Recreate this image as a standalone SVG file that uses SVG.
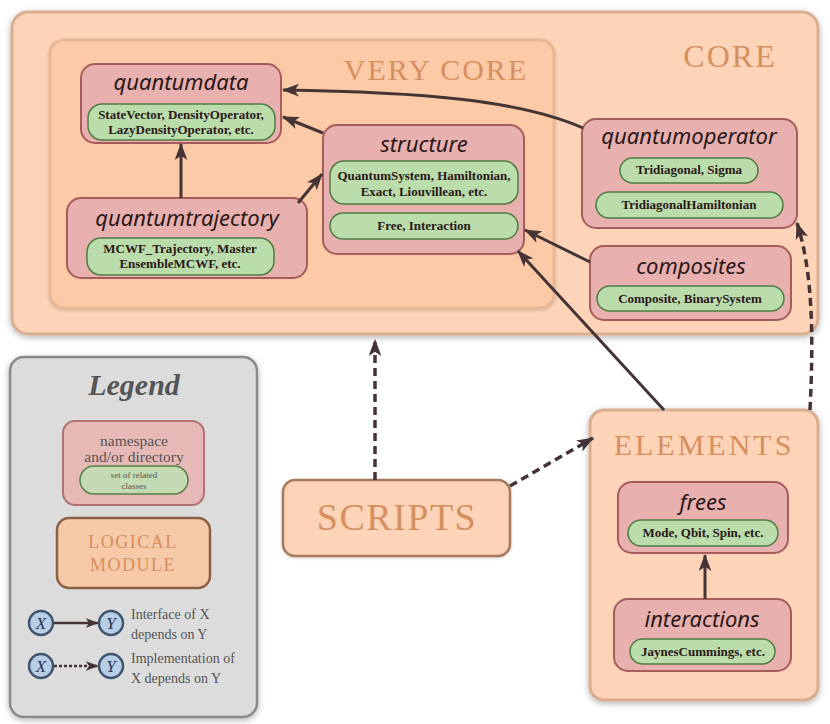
<svg xmlns="http://www.w3.org/2000/svg" width="830" height="724" viewBox="0 0 830 724">
<style>
.mod{fill:#fdd4b8;stroke:#d9ad8f;stroke-width:3}
.vcore{fill:#fccaa7;stroke:#e8b896;stroke-width:3}
.ns{fill:#e8b0af;stroke:#a65c5c;stroke-width:2}
.pill{fill:#bbdcab;stroke:#4f7d42;stroke-width:1.5}
.mlab{font-family:"Liberation Serif",serif;fill:#d68f5e;text-anchor:middle}
.title{font-family:"Noto Sans",sans-serif;font-style:italic;font-size:22px;fill:#2a1818;text-anchor:middle}
.ptxt{font-family:"Liberation Serif",serif;font-weight:bold;font-size:13px;fill:#2a1818;text-anchor:middle}
.con{fill:none;stroke:#453435;stroke-width:3}
.dash{stroke-dasharray:8,5;stroke-width:3.5}
.lg{font-family:"Liberation Serif",serif;fill:#555;}
.circ{fill:#b8cde6;stroke:#3f546e;stroke-width:2.5}
</style>
<defs>
<filter id="sh" x="-10%" y="-10%" width="120%" height="130%">
<feDropShadow dx="0" dy="2" stdDeviation="3" flood-color="#000" flood-opacity="0.3"/>
</filter>
<filter id="sh2" x="-10%" y="-10%" width="120%" height="130%">
<feDropShadow dx="0" dy="1" stdDeviation="1.5" flood-color="#000" flood-opacity="0.2"/>
</filter>
<marker id="ah" viewBox="0 0 16 12" refX="15" refY="6" markerWidth="17" markerHeight="13" markerUnits="userSpaceOnUse" orient="auto">
<path d="M0,0 L16,6 L0,12 L4,6 Z" fill="#453435"/>
</marker>
<marker id="ahs" viewBox="0 0 16 12" refX="15" refY="6" markerWidth="13" markerHeight="10" markerUnits="userSpaceOnUse" orient="auto">
<path d="M0,0 L16,6 L0,12 L4,6 Z" fill="#453435"/>
</marker>
</defs>
<rect width="830" height="724" fill="#fff"/>

<g id="core">
<rect class="mod" x="12" y="12" width="806" height="322" rx="16" filter="url(#sh)"/>
<text class="mlab" x="730" y="67" font-size="32" letter-spacing="2">CORE</text>
</g>
<g id="verycore">
<rect class="vcore" x="50" y="40" width="504" height="268" rx="14" filter="url(#sh2)"/>
<text class="mlab" x="436" y="80" font-size="30" letter-spacing="2">VERY CORE</text>
</g>

<g id="quantumdata">
<rect class="ns" x="81" y="64" width="200" height="79" rx="14"/>
<text class="title" x="181" y="90">quantumdata</text>
<rect class="pill" x="88" y="104" width="187" height="36" rx="14"/>
<text class="ptxt" x="181" y="119">StateVector, DensityOperator,</text>
<text class="ptxt" x="181" y="134">LazyDensityOperator, etc.</text>
</g>

<g id="quantumtrajectory">
<rect class="ns" x="67" y="198" width="240" height="80" rx="14"/>
<text class="title" x="187" y="226">quantumtrajectory</text>
<rect class="pill" x="87" y="238" width="187" height="37" rx="14"/>
<text class="ptxt" x="180" y="253">MCWF_Trajectory, Master</text>
<text class="ptxt" x="180" y="268">EnsembleMCWF, etc.</text>
</g>

<g id="structure">
<rect class="ns" x="323" y="125" width="201" height="129" rx="14"/>
<text class="title" x="424" y="152">structure</text>
<rect class="pill" x="330" y="161" width="188" height="43" rx="14"/>
<text class="ptxt" x="424" y="180">QuantumSystem, Hamiltonian,</text>
<text class="ptxt" x="424" y="196">Exact, Liouvillean, etc.</text>
<rect class="pill" x="330" y="213" width="188" height="26" rx="13"/>
<text class="ptxt" x="424" y="230">Free, Interaction</text>
</g>

<g id="quantumoperator">
<rect class="ns" x="582" y="119" width="215" height="109" rx="14"/>
<text class="title" x="689" y="144">quantumoperator</text>
<rect class="pill" x="620" y="158" width="138" height="25" rx="12.5"/>
<text class="ptxt" x="689" y="174">Tridiagonal, Sigma</text>
<rect class="pill" x="596" y="192" width="187" height="26" rx="13"/>
<text class="ptxt" x="689" y="209">TridiagonalHamiltonian</text>
</g>

<g id="composites">
<rect class="ns" x="590" y="246" width="201" height="74" rx="14"/>
<text class="title" x="691" y="274">composites</text>
<rect class="pill" x="597" y="286" width="187" height="25" rx="12.5"/>
<text class="ptxt" x="690" y="303">Composite, BinarySystem</text>
</g>

<g id="legend">
<rect x="10" y="357" width="247" height="360" rx="14" fill="#dcdcdc" stroke="#8a8a8a" stroke-width="2.5" filter="url(#sh)"/>
<text class="lg" x="134" y="395" font-size="30" font-weight="bold" font-style="italic" text-anchor="middle">Legend</text>
<rect x="63" y="421" width="141" height="84" rx="12" fill="#e6b8b6" stroke="#b07272" stroke-width="2"/>
<text class="lg" x="134" y="446" font-size="15.5" text-anchor="middle" font-family="Noto Sans,sans-serif">namespace</text>
<text class="lg" x="134" y="462" font-size="15.5" text-anchor="middle" font-family="Noto Sans,sans-serif">and/or directory</text>
<rect x="80" y="466" width="108" height="28" rx="14" fill="#c4dab2" stroke="#5b8049" stroke-width="1.5"/>
<text class="lg" x="134" y="478" font-size="9" text-anchor="middle">set of related</text>
<text class="lg" x="134" y="489" font-size="9" text-anchor="middle">classes</text>
<rect x="57" y="518" width="153" height="70" rx="12" fill="#f6c9a8" stroke="#8b6245" stroke-width="2.5"/>
<text class="mlab" x="133" y="548" font-size="18" letter-spacing="1.5">LOGICAL</text>
<text class="mlab" x="133" y="571" font-size="18" letter-spacing="1.5">MODULE</text>
<circle class="circ" cx="41" cy="623" r="12"/>
<circle class="circ" cx="111" cy="623" r="12"/>
<text x="41" y="629" font-family="Liberation Serif,serif" font-style="italic" font-size="17" fill="#2a3a55" text-anchor="middle">X</text>
<text x="111" y="629" font-family="Liberation Serif,serif" font-style="italic" font-size="17" fill="#2a3a55" text-anchor="middle">Y</text>
<line x1="54" y1="623" x2="98" y2="623" stroke="#453435" stroke-width="2.5" marker-end="url(#ahs)"/>
<text class="lg" x="131" y="619" font-size="14">Interface of X</text>
<text class="lg" x="131" y="639" font-size="14">depends on Y</text>
<circle class="circ" cx="41" cy="666" r="12"/>
<circle class="circ" cx="111" cy="666" r="12"/>
<text x="41" y="672" font-family="Liberation Serif,serif" font-style="italic" font-size="17" fill="#2a3a55" text-anchor="middle">X</text>
<text x="111" y="672" font-family="Liberation Serif,serif" font-style="italic" font-size="17" fill="#2a3a55" text-anchor="middle">Y</text>
<line x1="54" y1="666" x2="98" y2="666" stroke="#453435" stroke-width="2.5" stroke-dasharray="3,2" marker-end="url(#ahs)"/>
<text class="lg" x="131" y="663" font-size="14">Implementation of</text>
<text class="lg" x="131" y="683" font-size="14">X depends on Y</text>
</g>

<g id="scripts">
<rect x="283" y="480" width="227" height="76" rx="12" fill="#fdd4b8" stroke="#a67a5c" stroke-width="2.5" filter="url(#sh2)"/>
<text class="mlab" x="397" y="530" font-size="38" letter-spacing="1.5">SCRIPTS</text>
</g>

<g id="elements">
<rect class="mod" x="590" y="410" width="228" height="290" rx="14" filter="url(#sh)"/>
<text class="mlab" x="704" y="455" font-size="30" letter-spacing="3">ELEMENTS</text>
</g>

<g id="frees">
<rect class="ns" x="618" y="482" width="170" height="71" rx="14"/>
<text class="title" x="703" y="510">frees</text>
<rect class="pill" x="628" y="520" width="150" height="26" rx="13"/>
<text class="ptxt" x="703" y="537">Mode, Qbit, Spin, etc.</text>
</g>

<g id="interactions">
<rect class="ns" x="614" y="599" width="177" height="72" rx="14"/>
<text class="title" x="702" y="627">interactions</text>
<rect class="pill" x="630" y="639" width="145" height="25" rx="12.5"/>
<text class="ptxt" x="703" y="656">JaynesCummings, etc.</text>
</g>

<g id="connectors">
<path class="con" d="M583,128 C520,100 420,92 283,90" marker-end="url(#ah)"/>
<path class="con" d="M323,133 L283,117" marker-end="url(#ah)"/>
<path class="con" d="M181,198 L181,144" marker-end="url(#ah)"/>
<path class="con" d="M298,203 L322,174" marker-end="url(#ah)"/>
<path class="con" d="M590,262 L525,230" marker-end="url(#ah)"/>
<path class="con" d="M664,410 L518,251" stroke-width="3.5" marker-end="url(#ah)"/>
<path class="con dash" d="M375,480 L375,340" marker-end="url(#ah)"/>
<path class="con dash" d="M510,486 L593,438" marker-end="url(#ah)"/>
<path class="con dash" d="M810,410 C814,330 812,270 797,223" marker-end="url(#ah)"/>
<path class="con" d="M705,599 L705,555" marker-end="url(#ah)"/>
</g>
</svg>
